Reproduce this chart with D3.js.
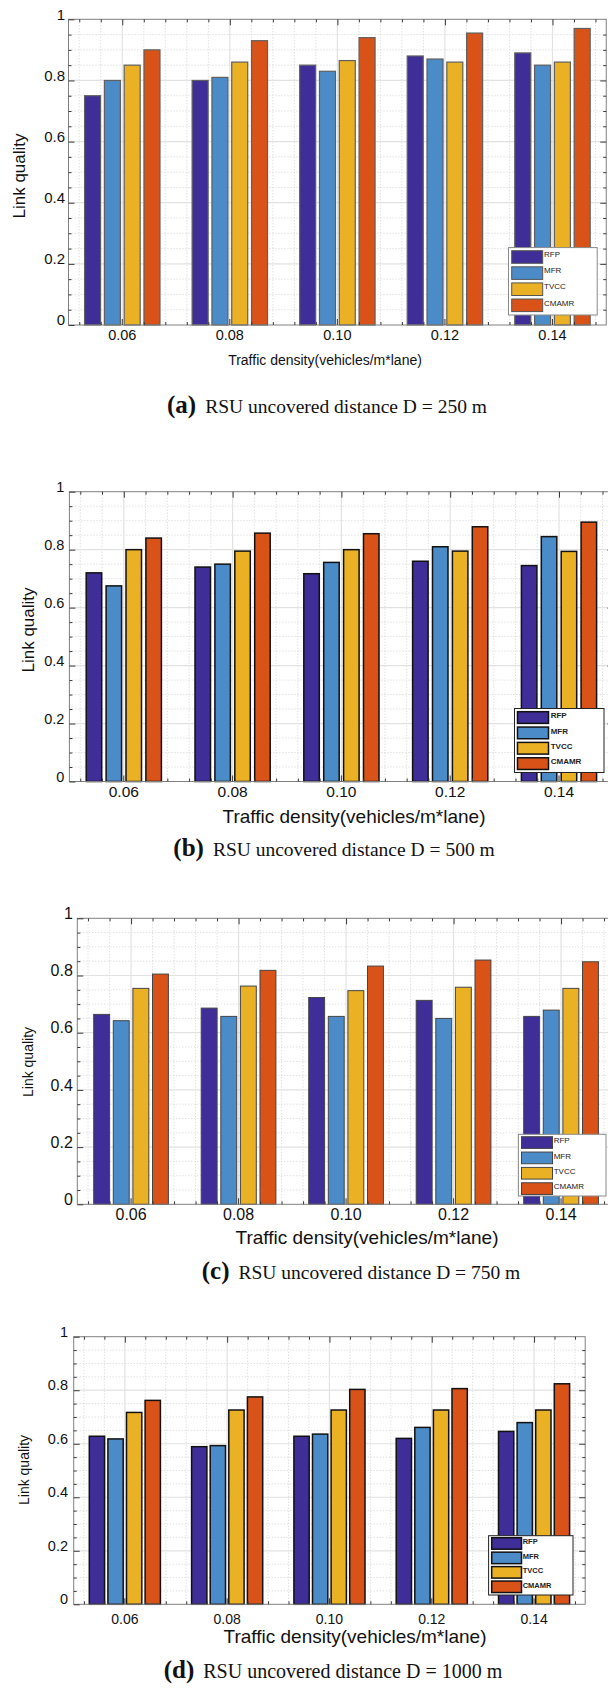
<!DOCTYPE html>
<html><head><meta charset="utf-8">
<script src="https://cdn.jsdelivr.net/npm/d3@7"></script>
<style>body{margin:0;background:#fff}svg{display:block}</style>
</head><body><svg id="c" width="608" height="1707"></svg>
<script>
// ---------- data ----------
const categories = ["0.06","0.08","0.10","0.12","0.14"];
const seriesNames = ["RFP","MFR","TVCC","CMAMR"];
const seriesColors = ["#3f2e98","#4b8bc7","#ebb125","#d95319"];
const yTickValues = [0,0.2,0.4,0.6,0.8,1];
const yTickLabels = ["0","0.2","0.4","0.6","0.8","1"];
const xTitle = "Traffic density(vehicles/m*lane)";
const yTitle = "Link quality";
const captionLetters = ["(a)","(b)","(c)","(d)"];
const captionTexts = ["RSU uncovered distance D = 250 m","RSU uncovered distance D = 500 m","RSU uncovered distance D = 750 m","RSU uncovered distance D = 1000 m"];

// (a) D = 250 m
const rfpA   = [0.75,0.80,0.85,0.88,0.89];
const mfrA   = [0.80,0.81,0.83,0.87,0.85];
const tvccA  = [0.85,0.86,0.865,0.86,0.86];
const cmamrA = [0.90,0.93,0.94,0.955,0.97];
// (b) D = 500 m
const rfpB   = [0.72,0.74,0.717,0.76,0.745];
const mfrB   = [0.675,0.75,0.756,0.81,0.845];
const tvccB  = [0.80,0.795,0.80,0.795,0.794];
const cmamrB = [0.84,0.857,0.855,0.879,0.895];
// (c) D = 750 m
const rfpC   = [0.664,0.686,0.723,0.713,0.657];
const mfrC   = [0.642,0.657,0.657,0.650,0.679];
const tvccC  = [0.755,0.763,0.747,0.759,0.755];
const cmamrC = [0.805,0.818,0.833,0.854,0.848];
// (d) D = 1000 m
const rfpD   = [0.628,0.589,0.628,0.620,0.646];
const mfrD   = [0.618,0.593,0.636,0.661,0.679];
const tvccD  = [0.717,0.726,0.726,0.726,0.726];
const cmamrD = [0.762,0.775,0.803,0.806,0.824];

// ---------- layout ----------
const panels = [
 {series:[rfpA,mfrA,tvccA,cmamrA], L:68.5, step:107.55, top:19.3, bottom:325, barW:16, pitch:19.8,
  barStroke:"#5f5f5f", barSW:1.2, yFs:15, yPad:3.5, xFs:14.5, xPad:4.8,
  yT:{x:18.6,y:176,fs:17}, xT:{x:325,y:360,fs:14}, cap:{x:327,y:407,fs:19.5,lfs:25},
  leg:{x0:508.5,y0:247.6,x1:597.2,y1:315,sx0:511.7,sx1:542.7,sy:250.7,sh:12.6,sp:16.1,tx:544,fs:8,bold:false,stroke:"#555",sw:1,border:"#8a8a8a"}},
 {series:[rfpB,mfrB,tvccB,cmamrB], L:69.4, step:108.8, top:491.7, bottom:781.5, barW:15.5, pitch:19.9,
  barStroke:"#111", barSW:1.5, yFs:14.5, yPad:5, xFs:15.5, xPad:4.6,
  yT:{x:28,y:630,fs:17}, xT:{x:354,y:816,fs:19}, cap:{x:334,y:850,fs:19.5,lfs:25},
  leg:{x0:514.5,y0:708.5,x1:604,y1:772.5,sx0:517.5,sx1:548.5,sy:711.7,sh:11.7,sp:15.35,tx:550.7,fs:8,bold:true,stroke:"#111",sw:1.5,border:"#222"}},
 {series:[rfpC,mfrC,tvccC,cmamrC], L:77.3, step:107.5, top:918.3, bottom:1204.3, barW:15.9, pitch:19.6,
  barStroke:"#444", barSW:1, yFs:16, yPad:4.5, xFs:16, xPad:4.4,
  yT:{x:28.5,y:1062,fs:14}, xT:{x:367,y:1237.3,fs:19}, cap:{x:361,y:1273,fs:19.5,lfs:25},
  leg:{x0:518.4,y0:1134.3,x1:606,y1:1196,sx0:521.5,sx1:552.5,sy:1136.7,sh:11.7,sp:15.35,tx:553.7,fs:8,bold:false,stroke:"#444",sw:1,border:"#8a8a8a"}},
 {series:[rfpD,mfrD,tvccD,cmamrD], L:73.7, step:102.3, top:1336.7, bottom:1604.3, barW:15.3, pitch:18.6,
  barStroke:"#111", barSW:1.5, yFs:14.5, yPad:5.7, xFs:14, xPad:10,
  yT:{x:23.8,y:1470,fs:14}, xT:{x:355,y:1636,fs:19}, cap:{x:333,y:1672,fs:20,lfs:25},
  leg:{x0:488.6,y0:1535.7,x1:573,y1:1595,sx0:491.7,sx1:521.5,sy:1537.7,sh:11.5,sp:14.45,tx:522.7,fs:7.5,bold:true,stroke:"#111",sw:1.5,border:"#222"}}
];

const svg = d3.select("#c");
const sans = "'Liberation Sans', Arial, sans-serif";
const serif = "'Liberation Serif', 'Times New Roman', serif";

panels.forEach((p, pi) => {
  const g = svg.append("g");
  const R = p.L + 5*p.step;
  const x = d3.scaleBand().domain(categories).range([p.L, R]).padding(0);
  const xu = d3.scaleLinear().domain([0.5,5.5]).range([p.L, R]);
  const y = d3.scaleLinear().domain([0,1]).range([p.bottom, p.top]);
  const W = 3*p.pitch + p.barW;
  const xs = d3.scaleBand().domain(seriesNames).range([-W/2, W/2])
      .paddingInner(1 - p.barW/p.pitch).paddingOuter(0);

  const minorY = d3.range(1,20).map(k => k/20).filter((v,k) => (k+1) % 4 !== 0);
  const majorY = [0.2,0.4,0.6,0.8];
  const minorX = d3.range(3,28).map(k => k/5).filter(v => Math.abs(v - Math.round(v)) > 1e-6);
  const majorX = [1,2,3,4,5];

  // background grid
  const grid = g.append("g");
  grid.selectAll(".hmin").data(minorY).join("line")
    .attr("x1", p.L).attr("x2", R).attr("y1", d => y(d)).attr("y2", d => y(d))
    .attr("stroke", "#c8c8c8").attr("stroke-width", 0.8).attr("stroke-dasharray", "1,2");
  grid.selectAll(".vmin").data(minorX).join("line")
    .attr("y1", p.top).attr("y2", p.bottom).attr("x1", d => xu(d)).attr("x2", d => xu(d))
    .attr("stroke", "#c8c8c8").attr("stroke-width", 0.8).attr("stroke-dasharray", "1,2");
  grid.selectAll(".hmaj").data(majorY).join("line")
    .attr("x1", p.L).attr("x2", R).attr("y1", d => y(d)).attr("y2", d => y(d))
    .attr("stroke", "#e2e2e2").attr("stroke-width", 1.2);
  grid.selectAll(".vmaj").data(majorX).join("line")
    .attr("y1", p.top).attr("y2", p.bottom).attr("x1", d => xu(d)).attr("x2", d => xu(d))
    .attr("stroke", "#e2e2e2").attr("stroke-width", 1.2);

  // bars
  seriesNames.forEach((name, si) => {
    g.append("g").selectAll("rect").data(p.series[si]).join("rect")
      .attr("x", (d,i) => x(categories[i]) + x.bandwidth()/2 + xs(name))
      .attr("width", xs.bandwidth())
      .attr("y", d => y(d))
      .attr("height", d => y(0) - y(d))
      .attr("fill", seriesColors[si])
      .attr("stroke", p.barStroke).attr("stroke-width", p.barSW);
  });

  // frame
  g.append("rect").attr("x", p.L).attr("y", p.top).attr("width", R - p.L).attr("height", p.bottom - p.top)
    .attr("fill", "none").attr("stroke", "#808080").attr("stroke-width", 1);

  const styleAxis = sel => { sel.select(".domain").remove(); sel.selectAll("line").attr("stroke", "#3a3a3a"); };

  // left major with labels
  const la = g.append("g").attr("transform", `translate(${p.L},0)`)
    .call(d3.axisLeft(y).tickValues(yTickValues).tickFormat((d,i) => yTickLabels[i])
      .tickSizeInner(-6).tickSizeOuter(0).tickPadding(p.yPad));
  styleAxis(la);
  la.attr("font-family", sans).attr("font-size", p.yFs);
  la.selectAll("text").attr("y", -5).attr("fill", "#111");
  // left minor
  styleAxis(g.append("g").attr("transform", `translate(${p.L},0)`)
    .call(d3.axisLeft(y).tickValues(minorY).tickFormat("").tickSizeInner(-3).tickSizeOuter(0)));
  // right
  styleAxis(g.append("g").attr("transform", `translate(${R},0)`)
    .call(d3.axisRight(y).tickValues(majorY).tickFormat("").tickSizeInner(-6).tickSizeOuter(0)));
  styleAxis(g.append("g").attr("transform", `translate(${R},0)`)
    .call(d3.axisRight(y).tickValues(minorY).tickFormat("").tickSizeInner(-3).tickSizeOuter(0)));
  // bottom major with labels
  const ba = g.append("g").attr("transform", `translate(0,${p.bottom})`)
    .call(d3.axisBottom(x).tickSizeInner(-6).tickSizeOuter(0).tickPadding(p.xPad));
  styleAxis(ba);
  ba.attr("font-family", sans).attr("font-size", p.xFs);
  ba.selectAll("text").attr("fill", "#111");
  styleAxis(g.append("g").attr("transform", `translate(0,${p.bottom})`)
    .call(d3.axisBottom(xu).tickValues(minorX).tickFormat("").tickSizeInner(-3).tickSizeOuter(0)));
  // top
  styleAxis(g.append("g").attr("transform", `translate(0,${p.top})`)
    .call(d3.axisTop(xu).tickValues(majorX).tickFormat("").tickSizeInner(-6).tickSizeOuter(0)));
  styleAxis(g.append("g").attr("transform", `translate(0,${p.top})`)
    .call(d3.axisTop(xu).tickValues(minorX).tickFormat("").tickSizeInner(-3).tickSizeOuter(0)));

  // legend
  const lg = p.leg;
  const leg = g.append("g");
  leg.append("rect").attr("x", lg.x0).attr("y", lg.y0).attr("width", lg.x1 - lg.x0).attr("height", lg.y1 - lg.y0)
    .attr("fill", "#fff").attr("stroke", lg.border).attr("stroke-width", 1);
  seriesNames.forEach((name, si) => {
    leg.append("rect").attr("x", lg.sx0).attr("y", lg.sy + si*lg.sp)
      .attr("width", lg.sx1 - lg.sx0).attr("height", lg.sh)
      .attr("fill", seriesColors[si]).attr("stroke", lg.stroke).attr("stroke-width", lg.sw);
    leg.append("text").attr("x", lg.tx).attr("y", lg.sy + si*lg.sp + 4)
      .attr("dominant-baseline", "central")
      .attr("font-family", sans).attr("font-size", lg.fs)
      .attr("font-weight", lg.bold ? "bold" : "normal").attr("fill", "#222").text(name);
  });

  // axis titles
  g.append("text").attr("transform", `translate(${p.yT.x},${p.yT.y}) rotate(-90)`)
    .attr("text-anchor", "middle").attr("dy", "0.35em")
    .attr("font-family", sans).attr("font-size", p.yT.fs).attr("fill", "#111").text(yTitle);
  g.append("text").attr("x", p.xT.x).attr("y", p.xT.y).attr("dy", "0.35em")
    .attr("text-anchor", "middle").attr("font-family", sans).attr("font-size", p.xT.fs)
    .attr("fill", "#111").text(xTitle);

  // caption
  const cap = g.append("text").attr("x", p.cap.x).attr("y", p.cap.y).attr("dy", "0.35em")
    .attr("text-anchor", "middle").attr("font-family", serif).attr("fill", "#111");
  cap.append("tspan").attr("font-weight", "bold").attr("font-size", p.cap.lfs).text(captionLetters[pi]);
  cap.append("tspan").attr("font-size", p.cap.fs).attr("dx", 9).text(captionTexts[pi]);
});
</script>
</body></html>
